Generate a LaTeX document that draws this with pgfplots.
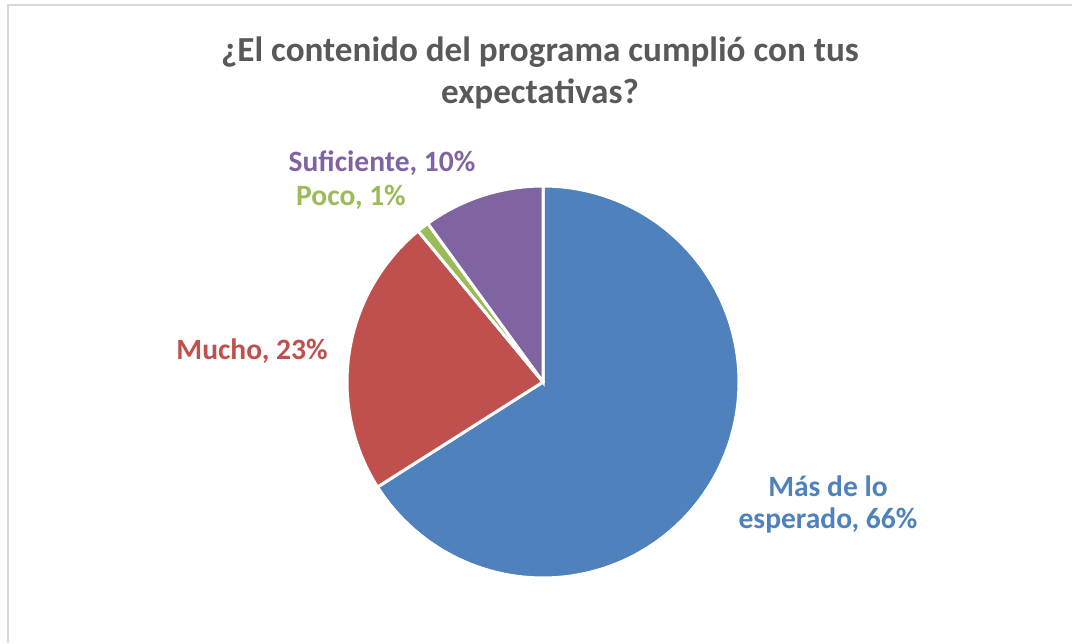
\documentclass[border=0pt]{standalone}
\usepackage{pgfplots}
\pgfplotsset{compat=1.18}
\usepackage{fontspec}
\setmainfont{Carlito}

\definecolor{cBlue}{HTML}{4F81BD}
\definecolor{cRed}{HTML}{C0504D}
\definecolor{cGreen}{HTML}{9BBB59}
\definecolor{cPurple}{HTML}{8064A2}
\definecolor{cTitle}{HTML}{595959}
\definecolor{cFrame}{HTML}{D9D9D9}

% shares in percent, clockwise from 12 o'clock
\def\vA{66} % Mas de lo esperado
\def\vB{23} % Mucho
\def\vC{1}  % Poco
\def\vD{10} % Suficiente

\begin{document}
\begin{tikzpicture}
\pgfmathsetmacro\aA{90}
\pgfmathsetmacro\aB{\aA-3.6*\vA}
\pgfmathsetmacro\aC{\aB-3.6*\vB}
\pgfmathsetmacro\aD{\aC-3.6*\vC}
\pgfmathsetmacro\aE{\aD-3.6*\vD}
\begin{axis}[
  scale only axis, width=26.8cm, height=16.075cm,
  xmin=0, xmax=1072, ymin=0, ymax=643,
  hide axis, clip=false]
% chart frame (left and top edges only are visible)
\draw[cFrame, line width=0.5mm] (8,0) -- (8,638) -- (1072,638);
% slices
\addplot[fill=cBlue, draw=white, line width=0.75mm, domain=\aB:\aA, samples=120, variable=\t]
  ({543+196*cos(\t)}, {261+196*sin(\t)}) -- (543,261) -- cycle;
\addplot[fill=cRed, draw=white, line width=0.75mm, domain=\aC:\aB, samples=60, variable=\t]
  ({543+196*cos(\t)}, {261+196*sin(\t)}) -- (543,261) -- cycle;
\addplot[fill=cGreen, draw=white, line width=0.75mm, domain=\aD:\aC, samples=5, variable=\t]
  ({543+196*cos(\t)}, {261+196*sin(\t)}) -- (543,261) -- cycle;
\addplot[fill=cPurple, draw=white, line width=0.75mm, domain=\aE:\aD, samples=30, variable=\t]
  ({543+196*cos(\t)}, {261+196*sin(\t)}) -- (543,261) -- cycle;
% title
\node[cTitle, font=\fontsize{25}{30}\selectfont\bfseries, align=center] at (540,570)
  {¿El contenido del programa cumplió con tus\\expectativas?};
% data labels
\node[cPurple, font=\fontsize{21}{23}\selectfont\bfseries] at (382,480) {Suficiente, 10\%};
\node[cGreen, font=\fontsize{21}{23}\selectfont\bfseries] at (351,446) {Poco, 1\%};
\node[cRed, font=\fontsize{21}{23}\selectfont\bfseries] at (252,292) {Mucho, 23\%};
\node[cBlue, font=\fontsize{21}{22.8}\selectfont\bfseries, align=center] at (828,139)
  {Más de lo\\esperado, 66\%};
\end{axis}
\pgfresetboundingbox
\path (current axis.south west) rectangle (current axis.north east);
\end{tikzpicture}
\end{document}
